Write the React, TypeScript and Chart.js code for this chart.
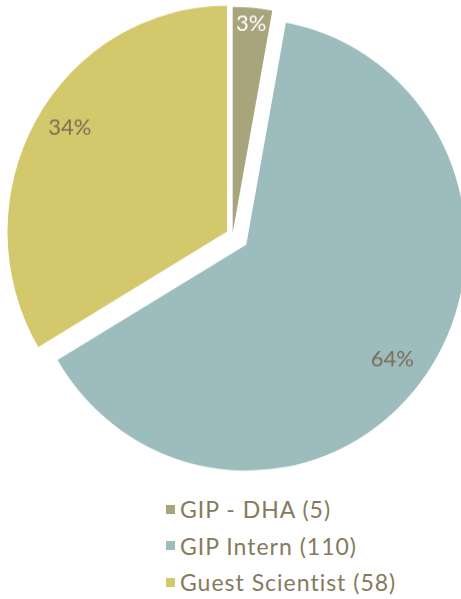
import React, { useEffect, useRef } from "react";
import { Chart, registerables } from "chart.js";

Chart.register(...registerables);

const categories = ["GIP - DHA", "GIP Intern", "Guest Scientist"];
const counts = [5, 110, 58];

// styles
const colors = ["#A8A47C", "#9CBCBD", "#D3C96C"];
const explode = [2, 16.8, 6.3];
const labelColors = ["#FFFFFF", "#7A6F55", "#7A6F55"];
const labelRadiusRatio = [0.928, 0.835, 0.851];
const labelAngleNudgeDeg = [0, 2.3, 3];

const TEXT_COLOR = "#857A5C";
const FONT = "Lato, 'Open Sans', sans-serif";
const CANVAS_W = 461;
const CANVAS_H = 480;
const Y_STRETCH = 1.03;

const explodePlugin = {
  id: "explodeSlices",
  afterDatasetUpdate(chart: any, args: any) {
    const meta = args.meta || chart.getDatasetMeta(args.index);
    meta.data.forEach((arc: any, i: number) => {
      const mid = (arc.startAngle + arc.endAngle) / 2;
      const d = explode[i] || 0;
      arc.x += Math.cos(mid) * d;
      arc.y += Math.sin(mid) * d;
    });
  },
};

const pctLabelPlugin = {
  id: "pctLabels",
  afterDatasetsDraw(chart: any) {
    const ctx = chart.ctx;
    const meta = chart.getDatasetMeta(0);
    const data = chart.data.datasets[0].data as number[];
    const total = data.reduce((a, b) => a + b, 0);
    ctx.save();
    ctx.font = `22px ${FONT}`;
    ctx.textAlign = "center";
    ctx.textBaseline = "middle";
    meta.data.forEach((arc: any, i: number) => {
      const mid = (arc.startAngle + arc.endAngle) / 2 + (labelAngleNudgeDeg[i] * Math.PI) / 180;
      const r = arc.outerRadius * labelRadiusRatio[i];
      const x = arc.x + Math.cos(mid) * r;
      const y = arc.y + Math.sin(mid) * r;
      ctx.fillStyle = labelColors[i];
      ctx.fillText(Math.round((data[i] / total) * 100) + "%", x, y);
    });
    ctx.restore();
  },
};

export default function App() {
  const ref = useRef<HTMLCanvasElement>(null);
  useEffect(() => {
    if (!ref.current) return;
    const chart = new Chart(ref.current, {
      type: "pie",
      data: {
        labels: categories,
        datasets: [
          {
            data: counts,
            backgroundColor: colors,
            borderWidth: 0,
            offset: 0,
            hoverOffset: 0,
          },
        ],
      },
      options: {
        responsive: false,
        animation: false,
        events: [],
        radius: 219.5,
        layout: { padding: { left: 4, top: 0, right: 0, bottom: 23.6 } },
        plugins: {
          legend: { display: false },
          tooltip: { enabled: false },
        },
      } as any,
      plugins: [explodePlugin, pctLabelPlugin],
    });
    return () => chart.destroy();
  }, []);

  const rowCenters = [509, 545.5, 582];
  return (
    <div
      style={{
        position: "absolute",
        left: 0,
        top: 0,
        width: 461,
        height: 599,
        overflow: "hidden",
        background: "#fff",
      }}
    >
      <canvas
        ref={ref}
        width={CANVAS_W}
        height={CANVAS_H}
        style={{
          position: "absolute",
          left: 0,
          top: 0,
          width: CANVAS_W + "px",
          height: CANVAS_H * Y_STRETCH + "px",
        }}
      />
      {categories.map((c, i) => (
        <div
          key={c}
          style={{
            position: "absolute",
            left: 166,
            top: rowCenters[i] - 15,
            height: 30,
            display: "flex",
            alignItems: "center",
            fontFamily: FONT,
            fontSize: 23,
            letterSpacing: "1px",
            color: TEXT_COLOR,
            whiteSpace: "nowrap",
          }}
        >
          <span
            style={{
              display: "inline-block",
              width: 9,
              height: 9,
              background: colors[i],
              marginRight: 5,
            }}
          />
          <span>{`${c} (${counts[i]})`}</span>
        </div>
      ))}
    </div>
  );
}
